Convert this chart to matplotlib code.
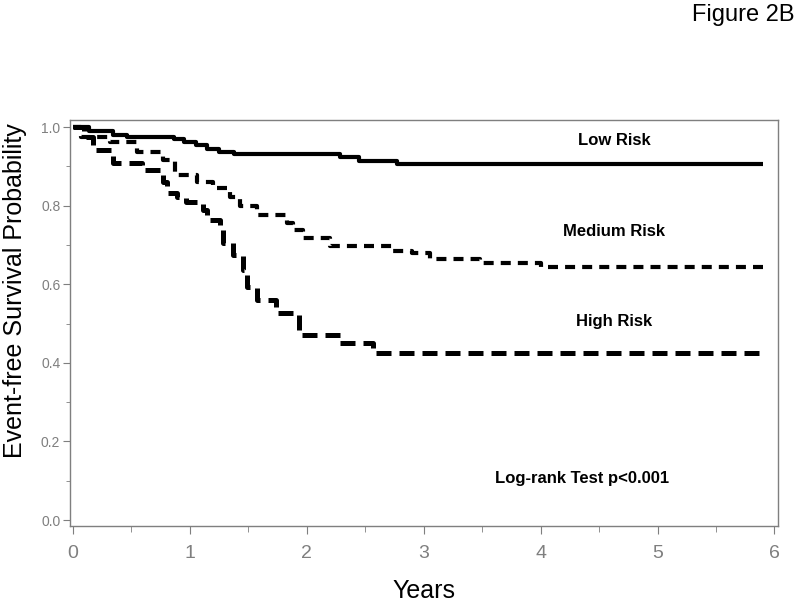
import matplotlib
matplotlib.use("Agg")
import matplotlib.pyplot as plt
from matplotlib.ticker import MultipleLocator

plt.rcParams['font.family'] = ['Liberation Sans', 'DejaVu Sans']

# Kaplan-Meier step data (years, survival)
low_t = [0.0, 0.14, 0.34, 0.46, 0.86, 0.95, 1.05, 1.15, 1.25, 1.38, 2.28, 2.45, 2.77, 5.9]
low_s = [1.0, 0.99, 0.981, 0.975, 0.969, 0.962, 0.955, 0.945, 0.937, 0.931, 0.923, 0.913, 0.905, 0.905]

med_t = [0.0, 0.07, 0.32, 0.55, 0.77, 0.87, 1.06, 1.2, 1.34, 1.43, 1.57, 1.83, 1.88, 1.97, 2.2,
         2.74, 2.9, 3.05, 3.48, 4.0, 5.9]
med_s = [1.0, 0.975, 0.963, 0.937, 0.916, 0.878, 0.861, 0.845, 0.823, 0.799, 0.776, 0.757, 0.738,
         0.717, 0.698, 0.685, 0.679, 0.664, 0.655, 0.645, 0.645]

high_t = [0.0, 0.09, 0.17, 0.34, 0.59, 0.77, 0.8, 0.89, 0.97, 1.11, 1.15, 1.26, 1.28, 1.37, 1.45,
          1.49, 1.57, 1.74, 1.93, 2.28, 2.57, 5.9]
high_s = [1.0, 0.975, 0.941, 0.909, 0.891, 0.861, 0.832, 0.823, 0.81, 0.789, 0.763, 0.738, 0.705,
          0.674, 0.636, 0.594, 0.56, 0.526, 0.471, 0.45, 0.424, 0.424]

group_labels = ["Low Risk", "Medium Risk", "High Risk"]
label_y = [0.965, 0.735, 0.505]
xticks = [0, 1, 2, 3, 4, 5, 6]
yticks = [0.0, 0.2, 0.4, 0.6, 0.8, 1.0]

fig = plt.figure(figsize=(8.0, 6.05), dpi=100)
ax = fig.add_axes([0.0875, 0.1306, 0.885, 0.6711])

ax.step(low_t, low_s, where='post', color='black', lw=3.0, solid_capstyle='butt')
ax.step(med_t, med_s, where='post', color='black', lw=3.0, linestyle=(0, (2.4, 1.7)),
        dash_capstyle='butt')
ax.step(high_t, high_s, where='post', color='black', lw=3.6, linestyle=(0, (3.0, 1.6)),
        dash_capstyle='butt')

ax.set_xlim(-0.026, 6.03)
ax.set_ylim(-0.015, 1.018)

ax.set_xticks(xticks)
ax.set_yticks(yticks)
ax.set_xticklabels([str(v) for v in xticks])
ax.set_yticklabels([f"{v:.1f}" for v in yticks])
ax.xaxis.set_minor_locator(MultipleLocator(0.5))
ax.yaxis.set_minor_locator(MultipleLocator(0.1))

gray = '#7f7f7f'
for s in ax.spines.values():
    s.set_color(gray)
    s.set_linewidth(1.0)
ax.tick_params(axis='x', which='major', length=6, color=gray, labelcolor=gray, labelsize=14, pad=8)
ax.tick_params(axis='x', which='minor', length=4, color=gray)
ax.tick_params(axis='y', which='major', length=5, color=gray, labelcolor=gray, labelsize=10, pad=2)
ax.tick_params(axis='y', which='minor', length=3, color=gray)

ax.set_xlabel("Years", fontsize=18, labelpad=12)
ax.set_ylabel("Event-free Survival Probability", fontsize=18, va='center')
ax.yaxis.set_label_coords(-0.078, 0.58)

for lab, yy in zip(group_labels, label_y):
    ax.text(4.63, yy, lab, ha='center', va='center', fontsize=12, fontweight='bold')
ax.text(4.35, 0.105, "Log-rank Test p<0.001", ha='center', va='center', fontsize=12,
        fontweight='bold')

fig.text(0.993, 0.975, "Figure 2B", ha='right', va='center', fontsize=17)

fig.savefig("out.png", dpi=100)
